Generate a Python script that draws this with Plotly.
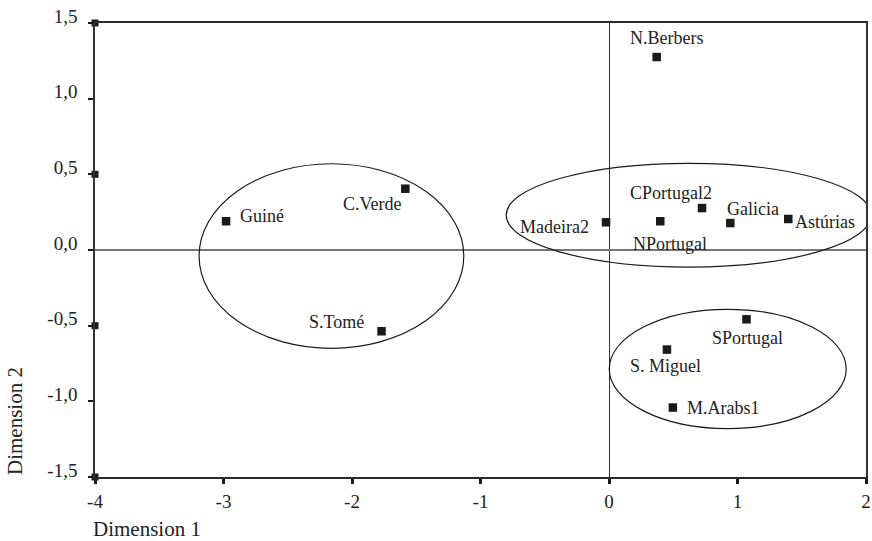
import plotly.graph_objects as go

# ---- data ----
names = ["Guiné", "C.Verde", "S.Tomé", "N.Berbers", "Madeira2", "NPortugal",
         "CPortugal2", "Galicia", "Astúrias", "SPortugal", "S. Miguel", "M.Arabs1"]
dim1 = [-2.98, -1.585, -1.77, 0.371, -0.023, 0.399, 0.724, 0.944, 1.395, 1.07, 0.451, 0.497]
dim2 = [0.19, 0.405, -0.537, 1.275, 0.183, 0.19, 0.277, 0.178, 0.205, -0.458, -0.658, -1.041]

# cluster ellipses (centre and semi-axes, in data units)
ell_cx = [-2.16, 0.62, 0.924]
ell_cy = [-0.04, 0.23, -0.786]
ell_rx = [1.03, 1.42, 0.922]
ell_ry = [0.61, 0.343, 0.394]

x_tickvals = [-4, -3, -2, -1, 0, 1, 2]
x_ticktext = ["-4", "-3", "-2", "-1", "0", "1", "2"]
y_tickvals = [-1.5, -1.0, -0.5, 0.0, 0.5, 1.0, 1.5]
y_ticktext = ["-1,5", "-1,0", "-0,5", "0,0", "0,5", "1,0", "1,5"]
y_square_ticks = [-1.5, -0.5, 0.5, 1.5]

# label placement: (xanchor, xshift px, yshift px)
label_pos = {
    "Guiné": ("left", 12, 5),
    "C.Verde": ("right", -2, -15),
    "S.Tomé": ("right", -16, 9),
    "N.Berbers": ("center", 10, 19),
    "Madeira2": ("right", -15, -5),
    "NPortugal": ("center", 10, -23),
    "CPortugal2": ("center", -31, 15),
    "Galicia": ("center", 23, 14),
    "Astúrias": ("left", 5, -3),
    "SPortugal": ("center", 1, -19),
    "S. Miguel": ("center", -1, -16),
    "M.Arabs1": ("left", 12, 0),
}

FONT = "Liberation Serif"
INK = "#1a1a1a"

fig = go.Figure()

fig.add_trace(go.Scatter(
    x=dim1, y=dim2, mode="markers",
    marker=dict(symbol="square", size=8.5, color=INK),
    hoverinfo="text", text=names, showlegend=False,
))

# square tick decorations on the y axis
fig.add_trace(go.Scatter(
    x=[x_tickvals[0]] * len(y_square_ticks), y=y_square_ticks, mode="markers",
    marker=dict(symbol="square", size=7, color=INK),
    cliponaxis=False, hoverinfo="skip", showlegend=False,
))

for cx, cy, rx, ry in zip(ell_cx, ell_cy, ell_rx, ell_ry):
    fig.add_shape(type="circle", xref="x", yref="y",
                  x0=cx - rx, x1=cx + rx, y0=cy - ry, y1=cy + ry,
                  line=dict(color=INK, width=1.2), layer="above")

for n, x, y in zip(names, dim1, dim2):
    anc, dx, dy = label_pos[n]
    fig.add_annotation(x=x, y=y, xref="x", yref="y", text=n, showarrow=False,
                       xanchor=anc, yanchor="middle", xshift=dx, yshift=dy,
                       font=dict(family=FONT, size=18, color="#222"))

fig.add_annotation(x=-4 / 771, y=-52 / 454, xref="paper", yref="paper", text="Dimension 1",
                   showarrow=False, xanchor="left", yanchor="middle",
                   font=dict(family=FONT, size=21, color="#222"))
fig.add_annotation(x=-80 / 771, y=(477 - 421) / 454, xref="paper", yref="paper",
                   text="Dimension 2", textangle=-90,
                   showarrow=False, xanchor="center", yanchor="middle",
                   font=dict(family=FONT, size=21, color="#222"))

fig.update_layout(
    width=872, height=541,
    margin=dict(l=95, r=6, t=23, b=64, autoexpand=False),
    paper_bgcolor="white", plot_bgcolor="white",
    font=dict(family=FONT, color="#222"),
    showlegend=False,
)

fig.update_xaxes(
    range=[-4, 2], tickvals=x_tickvals, ticktext=x_ticktext,
    showgrid=False, showline=True, linecolor="#2a2a2a", linewidth=2, mirror=True,
    ticks="outside", ticklen=5, tickwidth=3, tickcolor=INK,
    zeroline=True, zerolinecolor="#333", zerolinewidth=1,
    tickfont=dict(family=FONT, size=19, color="#222"),
    ticklabelstandoff=1,
)
fig.update_yaxes(
    range=[-1.5, 1.5], tickvals=y_tickvals, ticktext=y_ticktext,
    showgrid=False, showline=True, linecolor="#333", linewidth=1.5, mirror=True,
    ticks="outside", ticklen=5, tickwidth=2, tickcolor=INK,
    zeroline=True, zerolinecolor="#777", zerolinewidth=1.5,
    tickfont=dict(family=FONT, size=19, color="#222"),
    ticklabelstandoff=7, ticklabelshift=-7,
)

fig.write_html("out.html", config={"displayModeBar": False},
               post_script="document.body.style.margin='0';")
